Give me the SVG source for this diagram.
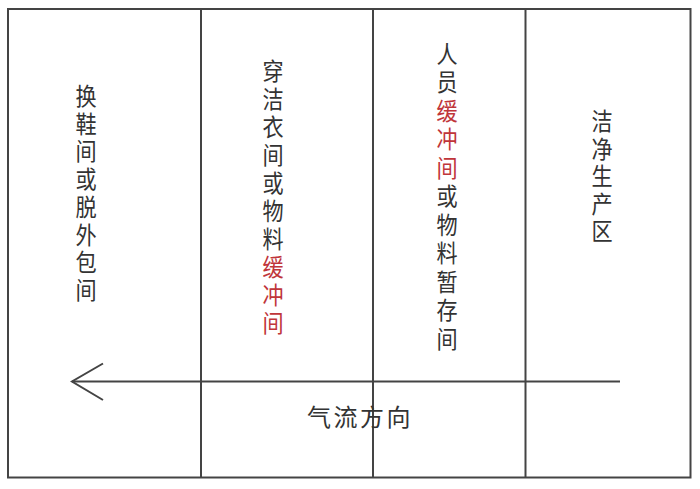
<svg xmlns="http://www.w3.org/2000/svg" width="700" height="489" viewBox="0 0 700 489">
<style>
.ln{stroke:#444;stroke-width:2;fill:none}
.t{font-family:"Noto Sans CJK SC","Noto Sans",sans-serif;font-size:24px;fill:#333;text-anchor:middle}
.r{fill:#c0353a}
</style>
<rect width="700" height="489" fill="#fff"/>
<g id="frame">
<rect class="ln" x="8" y="9" width="682.5" height="468.5"/>
<line class="ln" x1="201" y1="9" x2="201" y2="477.5"/>
<line class="ln" x1="373" y1="9" x2="373" y2="477.5"/>
<line class="ln" x1="525.5" y1="9" x2="525.5" y2="477.5"/>
</g>
<g id="room1" transform="translate(86,0) scale(0.88,1)">
<text class="t"><tspan x="0" y="105">换</tspan><tspan x="0" dy="27.75">鞋</tspan><tspan x="0" dy="27.75">间</tspan><tspan x="0" dy="27.75">或</tspan><tspan x="0" dy="27.75">脱</tspan><tspan x="0" dy="27.75">外</tspan><tspan x="0" dy="27.75">包</tspan><tspan x="0" dy="27.75">间</tspan></text>
</g>
<g id="room2" transform="translate(273,0) scale(0.88,1)">
<text class="t"><tspan x="0" y="80">穿</tspan><tspan x="0" dy="28">洁</tspan><tspan x="0" dy="28">衣</tspan><tspan x="0" dy="28">间</tspan><tspan x="0" dy="28">或</tspan><tspan x="0" dy="28">物</tspan><tspan x="0" dy="28">料</tspan><tspan x="0" dy="28" class="r">缓</tspan><tspan x="0" dy="28" class="r">冲</tspan><tspan x="0" dy="28" class="r">间</tspan></text>
</g>
<g id="room3" transform="translate(447,0) scale(0.88,1)">
<text class="t"><tspan x="0" y="63">人</tspan><tspan x="0" dy="28.5">员</tspan><tspan x="0" dy="28.5" class="r">缓</tspan><tspan x="0" dy="28.5" class="r">冲</tspan><tspan x="0" dy="28.5" class="r">间</tspan><tspan x="0" dy="28.5">或</tspan><tspan x="0" dy="28.5">物</tspan><tspan x="0" dy="28.5">料</tspan><tspan x="0" dy="28.5">暂</tspan><tspan x="0" dy="28.5">存</tspan><tspan x="0" dy="28.5">间</tspan></text>
</g>
<g id="room4" transform="translate(602,0) scale(0.88,1)">
<text class="t"><tspan x="0" y="130">洁</tspan><tspan x="0" dy="27.6">净</tspan><tspan x="0" dy="27.6">生</tspan><tspan x="0" dy="27.6">产</tspan><tspan x="0" dy="27.6">区</tspan></text>
</g>
<g id="connectors">
<line class="ln" x1="620" y1="381.5" x2="72" y2="381.5"/>
<polyline class="ln" points="103,363.5 72,381.5 103,400"/>
</g>
<g id="label">
<text class="t" x="360" y="426" style="letter-spacing:2.5px">气流方向</text>
</g>
</svg>
